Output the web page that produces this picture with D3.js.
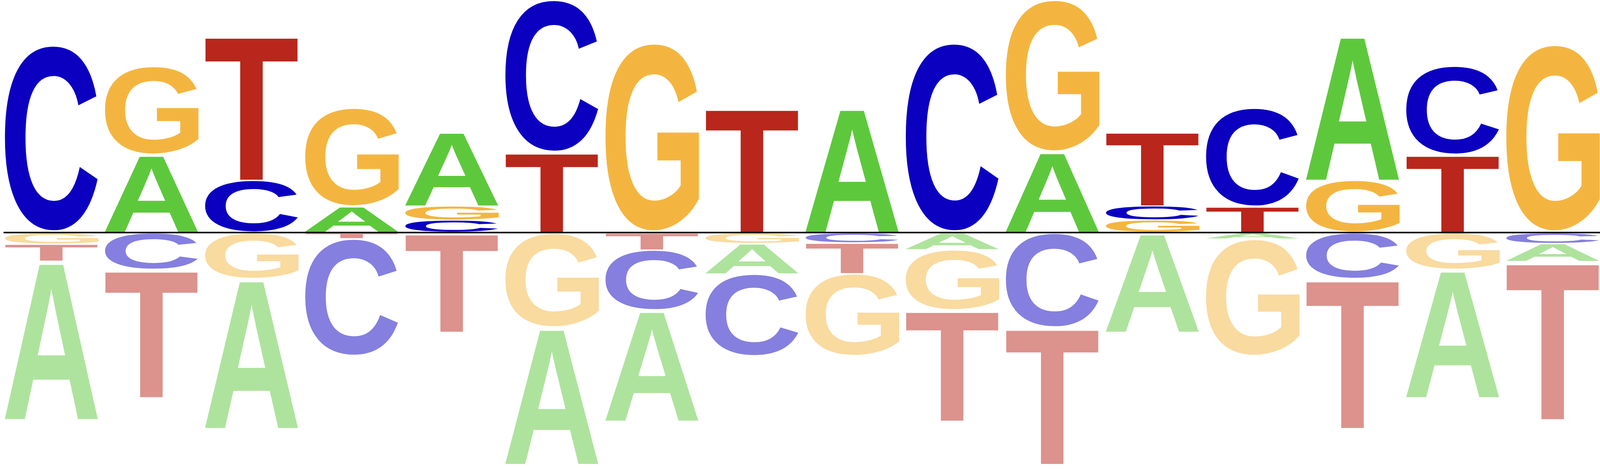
<!DOCTYPE html>
<html>
<head>
<meta charset="utf-8">
<script src="https://cdn.jsdelivr.net/npm/d3@7"></script>
<style>
  html, body { margin: 0; padding: 0; background: #fff; overflow: hidden; }
  svg { display: block; }
</style>
</head>
<body>
<div id="chartDiv"></div>
<script>
// logo columns and letters
var positions = d3.range(1, 17);
var bases = ["A", "C", "G", "T"];

// heights in bits, above the line
var posA = [0, 0.661, 0, 0.214, 0.641, 0, 0, 0, 1.066, 0, 0.684, 0, 0, 1.252, 0, 0];
var posC = [1.608, 0, 0.441, 0, 0.097, 1.319, 0, 0, 0, 1.626, 0, 0.121, 0.854, 0, 0.767, 0];
var posG = [0, 0.764, 0, 0.852, 0.121, 0, 1.626, 0, 0, 0, 1.316, 0.098, 0, 0.441, 0, 1.613];
var posT = [0, 0, 1.252, 0, 0, 0.681, 0, 1.066, 0, 0, 0, 0.641, 0.212, 0, 0.661, 0];

// heights in bits, below the line
var negA = [1.368, 0, 1.293, 0, 0, 1.182, 0.958, 0.263, 0, 0.137, 0, 0.849, 0.044, 0, 1.107, 0.155];
var negC = [0, 0.307, 0, 1.014, 0, 0, 0.519, 0.710, 0.077, 0, 0.808, 0, 0, 0.387, 0, 0.083];
var negG = [0.088, 0, 0.387, 0, 0, 0.808, 0, 0.083, 0.712, 0.521, 0, 0, 1.012, 0, 0.307, 0];
var negT = [0.147, 1.107, 0, 0.041, 0.849, 0, 0.139, 0, 0.266, 0.958, 1.182, 0, 0, 1.293, 0, 1.366];

;(function() {

	// drawing is laid out on a 4800x1200 board, then fitted to the window
	var width = 4800;
	var height = 1200;
	var fontSize = 1000;
	var gap = 2.5;

	var colors = { A: "#5ec83c", C: "#0b00c0", G: "#f4b540", T: "#b9261b" };
	var posVals = { A: posA, C: posC, G: posG, T: posT };
	var negVals = { A: negA, C: negC, G: negG, T: negT };

	var x = d3.scaleBand()
		.domain(positions)
		.range([10.7, 4800.5])
		.paddingInner(0.049)
		.paddingOuter(0);

	var yUp = d3.scaleLinear().domain([0, 2]).range([593, 0]);
	var yDown = d3.scaleLinear().domain([0, 2]).range([597, 1190]);

	// ink box of each glyph, so a letter can be stretched to its slot
	var ctx = document.createElement("canvas").getContext("2d");
	ctx.font = "bold " + fontSize + "px 'Liberation Sans'";
	var ink = {};
	bases.forEach(function(b) {
		var m = ctx.measureText(b);
		ink[b] = {
			l: m.actualBoundingBoxLeft,
			r: m.actualBoundingBoxRight,
			a: m.actualBoundingBoxAscent,
			d: m.actualBoundingBoxDescent
		};
	});

	var letters = [];
	positions.forEach(function(p, i) {
		var up = bases.map(function(b) { return { b: b, v: posVals[b][i] }; })
			.filter(function(d) { return d.v > 0; })
			.sort(function(a, b) { return a.v - b.v; });
		var acc = 0;
		up.forEach(function(d, k) {
			var y0 = yUp(acc + d.v), y1 = yUp(acc) - (k > 0 ? gap : 0);
			letters.push({ p: p, b: d.b, top: y0, bottom: y1, neg: false });
			acc += d.v;
		});

		var down = bases.map(function(b) { return { b: b, v: negVals[b][i] }; })
			.filter(function(d) { return d.v > 0; })
			.sort(function(a, b) { return a.v - b.v; });
		acc = 0;
		down.forEach(function(d, k) {
			var y0 = yDown(acc) + (k > 0 ? gap : 0), y1 = yDown(acc + d.v);
			letters.push({ p: p, b: d.b, top: y0, bottom: y1, neg: true });
			acc += d.v;
		});
	});

	var chart = d3.select("#chartDiv").append("svg")
		.attr("width", window.innerWidth || width)
		.attr("height", window.innerHeight || height)
		.attr("viewBox", "0 0 " + width + " " + height)
		.attr("preserveAspectRatio", "none");

	chart.append("rect")
		.attr("width", width)
		.attr("height", height)
		.attr("fill", "#fff");

	chart.selectAll(".letter")
		.data(letters)
		.enter().append("text")
		.attr("class", "letter")
		.attr("font-family", "'Liberation Sans', Arial, sans-serif")
		.attr("font-weight", "bold")
		.attr("font-size", fontSize)
		.attr("text-rendering", "geometricPrecision")
		.attr("fill", function(d) { return colors[d.b]; })
		.attr("fill-opacity", function(d) { return d.neg ? 0.5 : 1; })
		.attr("transform", function(d) {
			var g = ink[d.b];
			var sx = x.bandwidth() / (g.l + g.r);
			var sy = Math.max(d.bottom - d.top, 0.5) / (g.a + g.d);
			return "translate(" + x(d.p) + "," + d.top + ") scale(" + sx + "," + sy + ") translate(" + g.l + "," + g.a + ")";
		})
		.text(function(d) { return d.b; });

	// zero line
	chart.append("rect")
		.attr("x", x(positions[0]))
		.attr("y", 593)
		.attr("width", width - x(positions[0]))
		.attr("height", 4)
		.attr("fill", "#000");

})();
</script>
</body>
</html>
